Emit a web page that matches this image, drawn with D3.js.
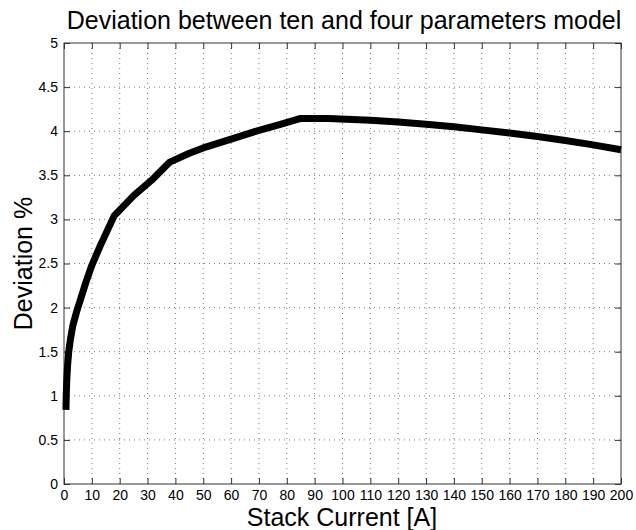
<!DOCTYPE html>
<html>
<head>
<meta charset="utf-8">
<script src="https://cdn.jsdelivr.net/npm/d3@7"></script>
<style>
  body { margin: 0; background: #fff; }
  svg { font-family: "Liberation Sans", Arial, sans-serif; }
</style>
</head>
<body>
<svg id="chart" width="636" height="530"></svg>
<script>
// values
const current   = [0.7, 0.8, 1.0, 1.3, 1.7, 2.3, 3.2, 4.5, 6, 8, 10, 13, 18, 25, 32, 38, 45, 50, 60, 70, 78, 85, 95, 110, 120, 130, 140, 150, 160, 170, 180, 190, 200];
const deviation = [0.84, 1.0, 1.18, 1.35, 1.5, 1.64, 1.8, 1.95, 2.1, 2.3, 2.48, 2.7, 3.04, 3.27, 3.46, 3.65, 3.75, 3.81, 3.91, 4.01, 4.08, 4.145, 4.145, 4.125, 4.105, 4.08, 4.05, 4.015, 3.98, 3.94, 3.895, 3.845, 3.79];
const xTicks = d3.range(0, 201, 10);
const yTicks = d3.range(0, 5.01, 0.5);

const svg = d3.select('#chart');
const m = { left: 64, right: 15, top: 43, bottom: 46 };
const W = 636, H = 530;
const x = d3.scaleLinear().domain([0, 200]).range([m.left, W - m.right]);
const y = d3.scaleLinear().domain([0, 5]).range([H - m.bottom, m.top]);

// dotted grid
const grid = svg.append('g').attr('stroke', '#555').attr('stroke-width', 0.8).attr('stroke-dasharray', '1,4');
grid.selectAll('.gx').data(xTicks.slice(1, -1)).enter().append('line')
  .attr('x1', d => x(d)).attr('x2', d => x(d)).attr('y1', y(0)).attr('y2', y(5));
grid.selectAll('.gy').data(yTicks.slice(1, -1)).enter().append('line')
  .attr('x1', x(0)).attr('x2', x(200)).attr('y1', d => y(d)).attr('y2', d => y(d));

// box
svg.append('rect').attr('x', x(0)).attr('y', y(5)).attr('width', x(200) - x(0)).attr('height', y(0) - y(5))
  .attr('fill', 'none').attr('stroke', '#333').attr('stroke-width', 1);

// axes with inward ticks
const fmtY = d => d3.format('~g')(d);
svg.append('g').attr('transform', `translate(0,${y(0)})`)
  .call(d3.axisBottom(x).tickValues(xTicks).tickSizeInner(-6).tickSizeOuter(0).tickPadding(6))
  .call(g => g.select('.domain').remove());
svg.append('g').attr('transform', `translate(0,${y(5)})`)
  .call(d3.axisTop(x).tickValues(xTicks).tickSizeInner(-6).tickSizeOuter(0).tickFormat(''))
  .call(g => g.select('.domain').remove());
svg.append('g').attr('transform', `translate(${x(0)},0)`)
  .call(d3.axisLeft(y).tickValues(yTicks).tickFormat(fmtY).tickSizeInner(-6).tickSizeOuter(0).tickPadding(6))
  .call(g => g.select('.domain').remove());
svg.append('g').attr('transform', `translate(${x(200)},0)`)
  .call(d3.axisRight(y).tickValues(yTicks).tickSizeInner(-6).tickSizeOuter(0).tickFormat(''))
  .call(g => g.select('.domain').remove());
svg.selectAll('.tick text').attr('font-size', 14).attr('fill', '#000')
  .attr('font-family', '"Liberation Sans", Arial, sans-serif');
svg.selectAll('.tick line').attr('stroke', '#333');

// curve
svg.append('path').datum(current.map((c, i) => [c, deviation[i]]))
  .attr('fill', 'none').attr('stroke', '#000').attr('stroke-width', 7).attr('stroke-linejoin', 'round')
  .attr('d', d3.line().x(d => x(d[0])).y(d => y(d[1])));

// labels
svg.append('text').attr('x', 344).attr('y', 29).attr('text-anchor', 'middle')
  .attr('font-size', 25).text('Deviation between ten and four parameters model');
svg.append('text').attr('x', 342).attr('y', 526).attr('text-anchor', 'middle')
  .attr('font-size', 25).text('Stack Current [A]');
svg.append('text').attr('transform', `translate(32,${(y(0) + y(5)) / 2}) rotate(-90)`)
  .attr('text-anchor', 'middle').attr('font-size', 25).text('Deviation %');
</script>
</body>
</html>
